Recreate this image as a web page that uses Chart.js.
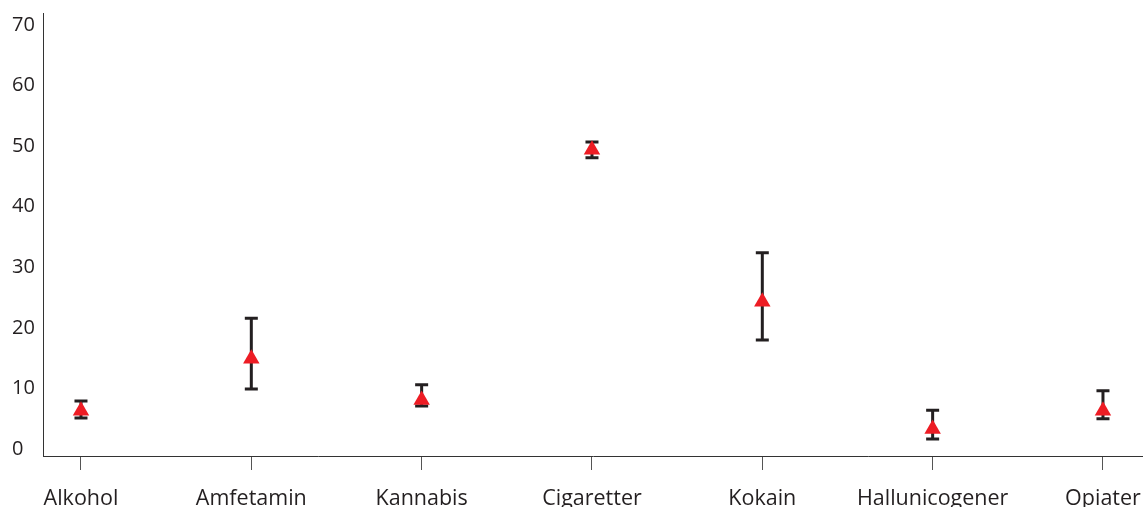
<!DOCTYPE html>
<html>
<head>
<meta charset="utf-8">
<script src="https://cdn.jsdelivr.net/npm/chart.js@4"></script>
<style>
html,body{margin:0;padding:0;background:#fff;}
#wrap{width:1143px;height:507px;position:relative;}
</style>
</head>
<body>
<div id="wrap"><canvas id="c" width="1143" height="507"></canvas></div>
<script>
const categories = ["Alkohol","Amfetamin","Kannabis","Cigaretter","Kokain","Hallunicogener","Opiater"];
const means = [6.3, 14.9, 8.1, 49.4, 24.3, 3.3, 6.3];
const lowerCI = [5.1, 9.9, 7.1, 48.1, 18.0, 1.65, 5.0];
const upperCI = [7.9, 21.6, 10.6, 50.7, 32.4, 6.4, 9.6];
const yTicks = [0, 10, 20, 30, 40, 50, 60, 70];

const points = means.map((v, i) => ({x: i, y: v}));

const errorBars = {
  id: 'errorBars',
  beforeDatasetsDraw(chart) {
    const ctx = chart.ctx;
    const xs = chart.scales.x, ys = chart.scales.y;
    ctx.save();
    ctx.strokeStyle = '#231f20';
    ctx.lineWidth = 3;
    ctx.lineCap = 'butt';
    for (let i = 0; i < means.length; i++) {
      const x = xs.getPixelForValue(i);
      const yl = ys.getPixelForValue(lowerCI[i]);
      const yu = ys.getPixelForValue(upperCI[i]);
      ctx.beginPath();
      ctx.moveTo(x, yl); ctx.lineTo(x, yu);
      ctx.moveTo(x - 6.5, yl); ctx.lineTo(x + 6.5, yl);
      ctx.moveTo(x - 6.5, yu); ctx.lineTo(x + 6.5, yu);
      ctx.stroke();
    }
    ctx.restore();
  }
};

const FONT = "'Open Sans', 'Noto Sans', sans-serif";

new Chart(document.getElementById('c'), {
  type: 'scatter',
  data: {
    datasets: [{
      data: points,
      pointStyle: 'triangle',
      pointRadius: 9.5,
      pointHoverRadius: 9.5,
      backgroundColor: '#ed1c24',
      borderColor: '#ed1c24',
      borderWidth: 0
    }]
  },
  plugins: [errorBars],
  options: {
    responsive: false,
    animation: false,
    events: [],
    layout: {autoPadding: false, padding: {left: 12, right: 0, top: 13, bottom: 0}},
    plugins: {legend: {display: false}, tooltip: {enabled: false}},
    scales: {
      x: {
        type: 'linear',
        min: -0.223,
        max: 6.235,
        afterBuildTicks(s) { s.ticks = categories.map((c, i) => ({value: i})); },
        afterFit(s) { s.height = 51; s.paddingLeft = 0; s.paddingRight = 0; },
        ticks: {
          callback: (v) => categories[v] ?? '',
          color: '#231f20',
          font: {family: FONT, size: 21.5},
          padding: 16,
          maxRotation: 0,
          autoSkip: false
        },
        grid: {display: true, drawOnChartArea: false, drawTicks: true, tickLength: 14, color: '#555', lineWidth: 1},
        border: {display: true, color: '#333', width: 1}
      },
      y: {
        type: 'linear',
        min: -1.16,
        max: 71.98,
        afterBuildTicks(s) { s.ticks = yTicks.map(v => ({value: v})); },
        afterFit(s) { s.width = 31; s.paddingTop = 0; s.paddingBottom = 0; },
        ticks: {
          color: '#231f20',
          font: {family: FONT, size: 20},
          crossAlign: 'far',
          padding: 0
        },
        grid: {display: false, drawTicks: false},
        border: {display: true, color: '#333', width: 1}
      }
    }
  }
});
</script>
</body>
</html>
